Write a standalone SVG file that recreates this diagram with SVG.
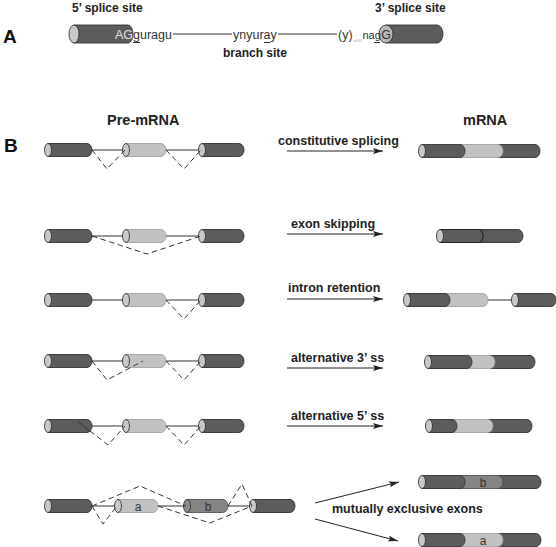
<svg xmlns="http://www.w3.org/2000/svg" width="556" height="547" viewBox="0 0 556 547">
<defs>
<style>
.bg{fill:#ffffff}
.lbl{font-family:"Liberation Sans",Arial,sans-serif;font-weight:bold;font-size:12.5px;fill:#222}
.lbla{font-family:"Liberation Sans",Arial,sans-serif;font-weight:bold;font-size:12px;fill:#222}
.big{font-family:"Liberation Sans",Arial,sans-serif;font-weight:bold;font-size:19px;fill:#111}
.hd{font-family:"Liberation Sans",Arial,sans-serif;font-weight:bold;font-size:14.5px;fill:#222}
.seq{font-family:"Liberation Sans",Arial,sans-serif;font-size:12.5px;fill:#333}
.ex{font-family:"Liberation Sans",Arial,sans-serif;font-size:12px;fill:#333}
.dk{fill:#5c5c5c;stroke:#333;stroke-width:0.9}
.lt{fill:#c2c2c2;stroke:#9a9a9a;stroke-width:0.8}
.md{fill:#858585;stroke:#4a4a4a;stroke-width:0.8}
.cap{fill:#c8c8c8;stroke:#333;stroke-width:0.9}
.intr{stroke:#333;stroke-width:1;fill:none}
.dash{stroke:#333;stroke-width:1;fill:none;stroke-dasharray:5.5,3.5}
.arr{stroke:#222;stroke-width:1;fill:none;marker-end:url(#ah)}
.ul{stroke:#333;stroke-width:1}
</style>
<marker id="ah" markerUnits="userSpaceOnUse" markerWidth="10" markerHeight="6" refX="10" refY="3" orient="auto">
<path d="M0,0 L10,3 L0,6 L2,3 z" fill="#222"/>
</marker>
</defs>
<rect class="bg" x="0" y="0" width="556" height="547"/>

<!-- Panel A -->
<g id="panelA">
<text class="big" x="3" y="43">A</text>
<text class="lbla" x="72" y="12">5’ splice site</text>
<text class="lbla" x="375" y="12">3’ splice site</text>
<g id="a-exon-left">
<path class="dk" d="M74,25 H128 A5,9 0 0 1 128,43 H74 Z"/>
<ellipse class="cap" cx="74" cy="34" rx="5" ry="9"/>
<text class="seq" x="115" y="39" style="fill:#e0e0e0">AG</text>
</g>
<g id="a-exon-right">
<path class="dk" d="M386,25 H437 A6,9 0 0 1 437,43 H386 Z"/>
<ellipse class="cap" cx="386" cy="34" rx="7" ry="9" style="fill:#b8b8b8"/>
<text class="seq" x="386" y="39" text-anchor="middle">G</text>
</g>
<g id="a-seq">
<text class="seq" x="133" y="39">guragu</text>
<line class="ul" x1="133" y1="42.5" x2="140" y2="42.5"/>
<line class="intr" x1="173" y1="34" x2="232" y2="34"/>
<text class="seq" x="233" y="39">ynyuray</text>
<line class="ul" x1="264" y1="42.5" x2="270.5" y2="42.5"/>
<line class="intr" x1="278" y1="34" x2="337" y2="34"/>
<text class="seq" x="338" y="39">(y)</text>
<text class="seq" x="353.5" y="42" style="font-size:4px;fill:#999">n≥11</text>
<text class="seq" x="362.5" y="39" style="font-size:11px">nag</text>
<line class="ul" x1="374" y1="42.5" x2="380" y2="42.5"/>
</g>
<text class="lbla" x="223" y="57">branch site</text>
</g>

<!-- Panel B headings -->
<text class="big" x="4" y="152">B</text>
<text class="hd" x="107" y="125">Pre-mRNA</text>
<text class="hd" x="463" y="125">mRNA</text>

<!-- connectors -->
<g id="connectors">
<line class="intr" x1="90" y1="150" x2="126" y2="150"/>
<line class="intr" x1="164" y1="150" x2="202" y2="150"/>
<line class="intr" x1="90" y1="236" x2="126" y2="236"/>
<line class="intr" x1="164" y1="236" x2="202" y2="236"/>
<line class="intr" x1="90" y1="300" x2="126" y2="300"/>
<line class="intr" x1="164" y1="300" x2="202" y2="300"/>
<line class="intr" x1="90" y1="361" x2="126" y2="361"/>
<line class="intr" x1="164" y1="361" x2="202" y2="361"/>
<line class="intr" x1="90" y1="426" x2="126" y2="426"/>
<line class="intr" x1="164" y1="426" x2="202" y2="426"/>
<line class="intr" x1="90" y1="506" x2="118" y2="506"/>
<line class="intr" x1="156" y1="506" x2="187" y2="506"/>
<line class="intr" x1="226" y1="506" x2="253" y2="506"/>
<line class="intr" x1="486" y1="300" x2="515" y2="300"/>
</g>

<!-- Row 1 pre-mRNA -->
<g id="r1-e1"><path class="dk" d="M48,143.5 H87 A5,6.5 0 0 1 87,156.5 H48 Z"/><ellipse class="cap" cx="48" cy="150" rx="3.5" ry="6.5"/></g>
<g id="r1-e2"><path class="lt" d="M126,143.5 H161 A5,6.5 0 0 1 161,156.5 H126 Z"/><ellipse class="cap" cx="126" cy="150" rx="3.5" ry="6.5"/></g>
<g id="r1-e3"><path class="dk" d="M202,143.5 H239 A5,6.5 0 0 1 239,156.5 H202 Z"/><ellipse class="cap" cx="202" cy="150" rx="3.5" ry="6.5"/></g>

<!-- Row 2 pre-mRNA -->
<g id="r2-e1"><path class="dk" d="M48,229.5 H87 A5,6.5 0 0 1 87,242.5 H48 Z"/><ellipse class="cap" cx="48" cy="236" rx="3.5" ry="6.5"/></g>
<g id="r2-e2"><path class="lt" d="M126,229.5 H161 A5,6.5 0 0 1 161,242.5 H126 Z"/><ellipse class="cap" cx="126" cy="236" rx="3.5" ry="6.5"/></g>
<g id="r2-e3"><path class="dk" d="M202,229.5 H239 A5,6.5 0 0 1 239,242.5 H202 Z"/><ellipse class="cap" cx="202" cy="236" rx="3.5" ry="6.5"/></g>

<!-- Row 3 pre-mRNA -->
<g id="r3-e1"><path class="dk" d="M48,293.5 H87 A5,6.5 0 0 1 87,306.5 H48 Z"/><ellipse class="cap" cx="48" cy="300" rx="3.5" ry="6.5"/></g>
<g id="r3-e2"><path class="lt" d="M126,293.5 H161 A5,6.5 0 0 1 161,306.5 H126 Z"/><ellipse class="cap" cx="126" cy="300" rx="3.5" ry="6.5"/></g>
<g id="r3-e3"><path class="dk" d="M202,293.5 H239 A5,6.5 0 0 1 239,306.5 H202 Z"/><ellipse class="cap" cx="202" cy="300" rx="3.5" ry="6.5"/></g>

<!-- Row 4 pre-mRNA -->
<g id="r4-e1"><path class="dk" d="M48,354.5 H87 A5,6.5 0 0 1 87,367.5 H48 Z"/><ellipse class="cap" cx="48" cy="361" rx="3.5" ry="6.5"/></g>
<g id="r4-e2"><path class="lt" d="M126,354.5 H161 A5,6.5 0 0 1 161,367.5 H126 Z"/><ellipse class="cap" cx="126" cy="361" rx="3.5" ry="6.5"/></g>
<g id="r4-e3"><path class="dk" d="M202,354.5 H239 A5,6.5 0 0 1 239,367.5 H202 Z"/><ellipse class="cap" cx="202" cy="361" rx="3.5" ry="6.5"/></g>

<!-- Row 5 pre-mRNA -->
<g id="r5-e1"><path class="dk" d="M48,419.5 H87 A5,6.5 0 0 1 87,432.5 H48 Z"/><ellipse class="cap" cx="48" cy="426" rx="3.5" ry="6.5"/></g>
<g id="r5-e2"><path class="lt" d="M126,419.5 H161 A5,6.5 0 0 1 161,432.5 H126 Z"/><ellipse class="cap" cx="126" cy="426" rx="3.5" ry="6.5"/></g>
<g id="r5-e3"><path class="dk" d="M202,419.5 H239 A5,6.5 0 0 1 239,432.5 H202 Z"/><ellipse class="cap" cx="202" cy="426" rx="3.5" ry="6.5"/></g>

<!-- Row 6 pre-mRNA -->
<g id="r6-e1"><path class="dk" d="M48,499.5 H87 A5,6.5 0 0 1 87,512.5 H48 Z"/><ellipse class="cap" cx="48" cy="506" rx="3.5" ry="6.5"/></g>
<g id="r6-ea"><path class="lt" d="M118,499.5 H153 A5,6.5 0 0 1 153,512.5 H118 Z"/><ellipse class="cap" cx="118" cy="506" rx="3.5" ry="6.5"/><text class="ex" x="138" y="510.5" text-anchor="middle">a</text></g>
<g id="r6-eb"><path class="md" d="M187,499.5 H223 A5,6.5 0 0 1 223,512.5 H187 Z"/><ellipse class="cap" cx="187" cy="506" rx="3.5" ry="6.5" style="fill:#8a8a8a"/><text class="ex" x="208" y="510.5" text-anchor="middle">b</text></g>
<g id="r6-e3"><path class="dk" d="M253,499.5 H290 A5,6.5 0 0 1 290,512.5 H253 Z"/><ellipse class="cap" cx="253" cy="506" rx="3.5" ry="6.5"/></g>

<!-- splicing dashed connectors -->
<g id="splice-connectors">
<path class="dash" d="M92,150 L107,169 L125,150"/>
<path class="dash" d="M166,150 L184,169 L201,150"/>
<path class="dash" d="M92,236 L147,254 L201,236"/>
<path class="dash" d="M166,300 L184,319 L201,300"/>
<path class="dash" d="M92,361 L107,380 L143,361"/>
<path class="dash" d="M166,361 L184,380 L201,361"/>
<path class="intr" d="M77,421 L90,431"/>
<path class="dash" d="M90,431 L108,445 L125,426"/>
<path class="dash" d="M166,426 L184,445 L201,426"/>
<path class="dash" d="M92,506 L103,524 L117,506"/>
<path class="dash" d="M92,506 L140,486 L186,506"/>
<path class="dash" d="M158,506 L210,523 L252,506"/>
<path class="dash" d="M228,506 L242,484 L252,506"/>
</g>

<!-- arrows and labels -->
<g id="arrows">
<text class="lbl" x="278" y="145">constitutive splicing</text>
<line class="arr" x1="287" y1="151" x2="383" y2="151"/>
<text class="lbl" x="291" y="228">exon skipping</text>
<line class="arr" x1="287" y1="234" x2="383" y2="234"/>
<text class="lbl" x="288" y="292">intron retention</text>
<line class="arr" x1="287" y1="299" x2="383" y2="299"/>
<text class="lbl" x="291" y="362">alternative 3’ ss</text>
<line class="arr" x1="287" y1="368" x2="383" y2="368"/>
<text class="lbl" x="291" y="420">alternative 5’ ss</text>
<line class="arr" x1="287" y1="426" x2="383" y2="426"/>
<line class="arr" x1="315" y1="503" x2="399" y2="482"/>
<line class="arr" x1="315" y1="519" x2="398" y2="541"/>
<text class="lbl" x="332" y="513">mutually exclusive exons</text>
</g>

<!-- mRNA row 1 -->
<g id="m1">
<path class="dk" d="M498,144.5 H535 A5,6.5 0 0 1 535,157.5 H498 Z"/>
<path class="lt" d="M460,144.5 H498 A5,6.5 0 0 1 498,157.5 H460 Z"/>
<path class="dk" d="M422,144.5 H460 A5,6.5 0 0 1 460,157.5 H422 Z"/>
<ellipse class="cap" cx="422" cy="151" rx="3.5" ry="6.5"/>
</g>
<!-- mRNA row 2 -->
<g id="m2">
<path class="dk" d="M478,229.5 H518 A5,6.5 0 0 1 518,242.5 H478 Z"/>
<path class="dk" d="M440,229.5 H479 A4,6.5 0 0 1 479,242.5 H440 Z" style="stroke:#222;stroke-width:1.1"/>
<ellipse class="cap" cx="440" cy="236" rx="3.5" ry="6.5"/>
</g>
<!-- mRNA row 3 -->
<g id="m3">
<path class="lt" d="M445,293.5 H483 A5,6.5 0 0 1 483,306.5 H445 Z"/>
<path class="dk" d="M407,293.5 H445 A5,6.5 0 0 1 445,306.5 H407 Z"/>
<ellipse class="cap" cx="407" cy="300" rx="3.5" ry="6.5"/>
<path class="dk" d="M515,293.5 H551 A5,6.5 0 0 1 551,306.5 H515 Z"/>
<ellipse class="cap" cx="515" cy="300" rx="3.5" ry="6.5"/>
</g>
<!-- mRNA row 4 -->
<g id="m4">
<path class="dk" d="M490,355.5 H530 A5,6.5 0 0 1 530,368.5 H490 Z"/>
<path class="lt" d="M467,355.5 H490 A5,6.5 0 0 1 490,368.5 H467 Z"/>
<path class="dk" d="M428,355.5 H467 A5,6.5 0 0 1 467,368.5 H428 Z"/>
<ellipse class="cap" cx="428" cy="362" rx="3.5" ry="6.5"/>
</g>
<!-- mRNA row 5 -->
<g id="m5">
<path class="dk" d="M488,419.5 H527 A5,6.5 0 0 1 527,432.5 H488 Z"/>
<path class="lt" d="M452,419.5 H488 A5,6.5 0 0 1 488,432.5 H452 Z"/>
<path class="dk" d="M429,419.5 H452 A5,6.5 0 0 1 452,432.5 H429 Z"/>
<ellipse class="cap" cx="429" cy="426" rx="3.5" ry="6.5"/>
</g>
<!-- mRNA b -->
<g id="m6b">
<path class="dk" d="M498,475.5 H536 A5,6.5 0 0 1 536,488.5 H498 Z"/>
<path class="md" d="M460,475.5 H498 A5,6.5 0 0 1 498,488.5 H460 Z"/>
<path class="dk" d="M422,475.5 H460 A5,6.5 0 0 1 460,488.5 H422 Z"/>
<ellipse class="cap" cx="422" cy="482" rx="3.5" ry="6.5"/>
<text class="ex" x="483" y="486.5" text-anchor="middle">b</text>
</g>
<!-- mRNA a -->
<g id="m6a">
<path class="dk" d="M498,533.5 H536 A5,6.5 0 0 1 536,546.5 H498 Z"/>
<path class="lt" d="M460,533.5 H498 A5,6.5 0 0 1 498,546.5 H460 Z"/>
<path class="dk" d="M422,533.5 H460 A5,6.5 0 0 1 460,546.5 H422 Z"/>
<ellipse class="cap" cx="422" cy="540" rx="3.5" ry="6.5"/>
<text class="ex" x="483" y="544.5" text-anchor="middle">a</text>
</g>
</svg>
